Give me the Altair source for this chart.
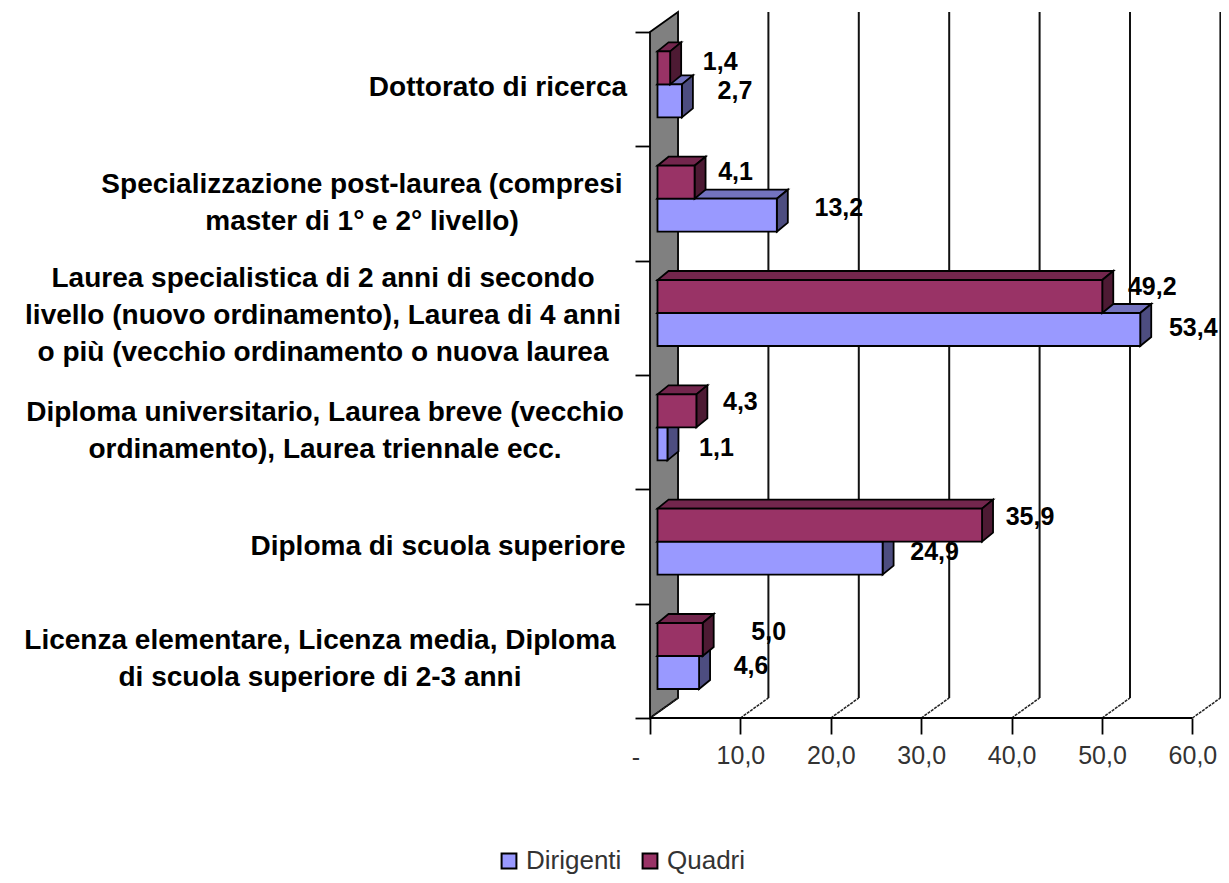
import altair as alt
import pandas as pd

categories = [
    "Licenza elementare, Licenza media, Diploma\ndi scuola superiore di 2-3 anni",
    "Diploma di scuola superiore",
    "Diploma universitario, Laurea breve (vecchio\nordinamento), Laurea triennale ecc.",
    "Laurea specialistica di 2 anni di secondo\nlivello (nuovo ordinamento), Laurea di 4 anni\no più (vecchio ordinamento o nuova laurea",
    "Specializzazione post-laurea (compresi\nmaster di 1° e 2° livello)",
    "Dottorato di ricerca",
]
dirigenti = [4.6, 24.9, 1.1, 53.4, 13.2, 2.7]
quadri = [5.0, 35.9, 4.3, 49.2, 4.1, 1.4]
x_ticks = [0, 10, 20, 30, 40, 50, 60]

# layout (pixels)
PX = 9.04        # px per x unit
PY = 114.33      # px per category
W, H = 571, 705
XMAX = W / PX
YMAX = H / PY
FLOOR_DX, FLOOR_DY = 28 / PX, 20 / PY
BAR_DX, BAR_DY = 11 / PX, 9 / PY
BAR_X0 = 7.5 / PX
GROUP_BOTTOM = 29 / PY      # bars start this far above the category's lower tick
BAR_H = 33 / PY
cat_center_px = [320, 438, 325, 323, 362, 498]
cat_first_line_px = [641, 547, 413, 279, 185, 88]
q_dx = [66, 48, 44, 50, 41, 50]
q_dy = [-8, -8, -9, -10, -10, -6]
d_dx = [52, 52, 49, 53, 62, 53]
d_dy = [-7, -6, 4, -2, -7, -10]

BLUE = ("#9999ff", "#7373bf", "#4d4d80")
RED = ("#993366", "#73264d", "#4d1a33")


def bar_frames(values, level):
    front, top, side = [], [], []
    for i, v in enumerate(values):
        yb = i + GROUP_BOTTOM + level * BAR_H
        yt = yb + BAR_H
        x0, x1 = BAR_X0, BAR_X0 + v
        front.append({"id": i, "x": x0, "x2": x1, "y": yb, "y2": yt})
        top.append({"id": i, "x": x0, "x2": x1, "y": yt})
        top.append({"id": i, "x": x0 + BAR_DX, "x2": x1 + BAR_DX, "y": yt + BAR_DY})
        side.append({"id": i, "x": x1, "y": yb, "y2": yt})
        side.append({"id": i, "x": x1 + BAR_DX, "y": yb + BAR_DY, "y2": yt + BAR_DY})
    return pd.DataFrame(front), pd.DataFrame(top), pd.DataFrame(side)


xs = alt.Scale(domain=[0, XMAX], nice=False, zero=False)
ys = alt.Scale(domain=[0, YMAX], nice=False, zero=False)
AX = alt.Axis(
    values=x_ticks, domain=False, grid=False, tickColor="#000000", tickWidth=1.8,
    tickSize=16, labelFontSize=25, labelFont="Liberation Sans", labelColor="#333333",
    labelPadding=9, labelExpr="datum.value == 0 ? '' : replace(format(datum.value, '.1f'), '.', ',')",
    title=None, labelFlush=False, labelOverlap=False)
AY = alt.Axis(
    values=list(range(7)), domain=False, grid=False, labels=False, tickColor="#000000",
    tickWidth=1.8, tickSize=15, title=None)
X = alt.X("x:Q", scale=xs, axis=AX, stack=None)
Y = alt.Y("y:Q", scale=ys, axis=AY, stack=None)
X2 = alt.X2("x2:Q")
Y2 = alt.Y2("y2:Q")
LINE = {"stroke": "#000000", "strokeWidth": 1.8}

# wall
wall = alt.Chart(pd.DataFrame([
    {"x": 0, "y": 0, "y2": 6},
    {"x": FLOOR_DX, "y": FLOOR_DY, "y2": 6 + FLOOR_DY},
])).mark_area(color="#808080", orient="vertical", **LINE).encode(x=X, y=Y, y2=Y2)

# grid at the back wall
grid = alt.Chart(pd.DataFrame([
    {"x": v + FLOOR_DX, "y": FLOOR_DY, "y2": 6 + FLOOR_DY} for v in x_ticks
])).mark_rule(color="#111111", strokeWidth=2).encode(x=X, y=Y, y2=Y2)

floor_rows = []
for v in x_ticks:
    floor_rows.append({"t": v, "x": v, "y": 0})
    floor_rows.append({"t": v, "x": v + FLOOR_DX, "y": FLOOR_DY})
floor = alt.Chart(pd.DataFrame(floor_rows)).mark_line(
    color="#222222", strokeWidth=1.5, strokeDash=[3, 1]
).encode(x=X, y=Y, detail="t:N")

base_line = alt.Chart(pd.DataFrame([{"x": 0, "x2": 60, "y": 0}])).mark_rule(
    color="#000000", strokeWidth=1.8).encode(x=X, x2=X2, y=Y)

zero_label = alt.Chart(pd.DataFrame([{"x": 0, "y": 0, "t": "-"}])).mark_text(
    font="Liberation Sans", fontSize=25, color="#333333", dx=-14, dy=40
).encode(x=X, y=Y, text="t:N")


def bars(values, level, cols, name):
    fr, tp, sd = bar_frames(values, level)
    fr["series"] = name
    top_l = alt.Chart(tp).mark_area(color=cols[1], orient="horizontal", **LINE).encode(
        x=X, x2=X2, y=Y, detail="id:N")
    side_l = alt.Chart(sd).mark_area(color=cols[2], orient="vertical", **LINE).encode(
        x=X, y=Y, y2=Y2, detail="id:N")
    front_l = alt.Chart(fr).mark_rect(**LINE).encode(
        x=X, x2=X2, y=Y, y2=Y2,
        color=alt.Color("series:N", scale=alt.Scale(
            domain=["Dirigenti", "Quadri"], range=[BLUE[0], RED[0]]),
            legend=alt.Legend(
                orient="none", legendX=-154, legendY=835, direction="horizontal", columns=2,
                title=None, symbolType="square", symbolSize=220, symbolStrokeColor="#000000",
                symbolStrokeWidth=2, labelFontSize=26, labelFont="Liberation Sans",
                labelColor="#333333", labelOffset=4, columnPadding=15, labelLimit=300)),
    )
    return [top_l, side_l, front_l]


def values_labels(values, level, dxs, dys):
    rows = []
    for i, v in enumerate(values):
        rows.append({
            "x": BAR_X0 + v + dxs[i] / PX,
            "y": i + GROUP_BOTTOM + (level + 0.5) * BAR_H - dys[i] / PY,
            "t": f"{v:.1f}".replace(".", ","),
        })
    return alt.Chart(pd.DataFrame(rows)).mark_text(
        font="Liberation Sans", fontSize=25, fontWeight="bold", color="#000000",
    ).encode(x=X, y=Y, text="t:N")


cat_df = pd.DataFrame({
    "x": [(c - 650) / PX for c in cat_center_px],
    "y": [(718 - p) / PY for p in cat_first_line_px],
    "t": categories,
})
cat_labels = alt.Chart(cat_df).mark_text(
    font="Liberation Sans", fontSize=28, fontWeight="bold", color="#000000",
    align="center", baseline="middle", lineBreak="\n", lineHeight=37,
).encode(x=X, y=Y, text="t:N")

chart = alt.layer(
    wall, grid, floor, base_line,
    *bars(dirigenti, 0, BLUE, "Dirigenti"),
    *bars(quadri, 1, RED, "Quadri"),
    values_labels(quadri, 1, q_dx, q_dy),
    values_labels(dirigenti, 0, d_dx, d_dy),
    cat_labels, zero_label,
).properties(
    width=W, height=H,
    autosize=alt.AutoSizeParams(type="none"),
    padding={"left": 642, "top": 5, "right": 0, "bottom": 156},
).configure_view(stroke=None)

chart.save("out.html", embed_options={"renderer": "svg", "actions": False})
